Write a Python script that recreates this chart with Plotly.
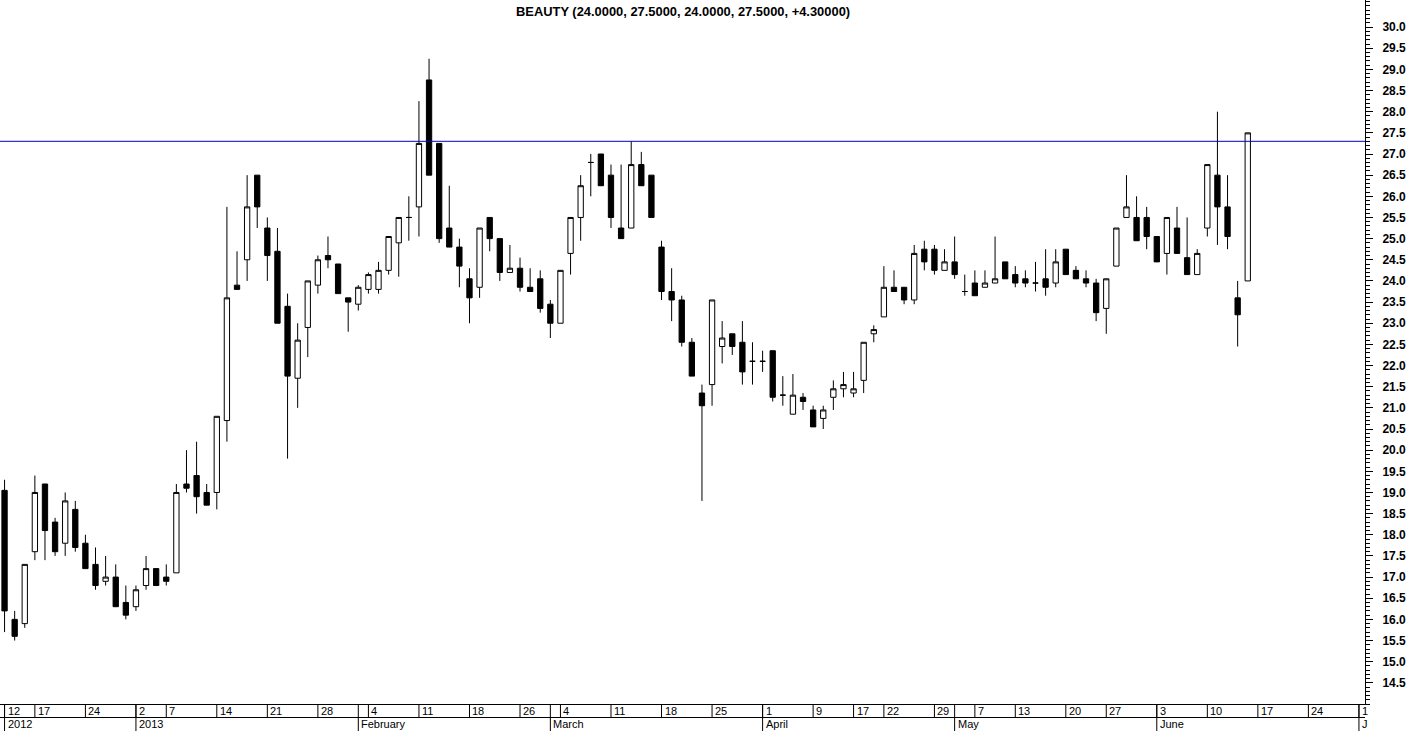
import pandas as pd
import plotly.graph_objects as go

title_text = "BEAUTY (24.0000, 27.5000, 24.0000, 27.5000, +4.30000)"

# trading calendar (SET), the last rows are empty future days
start_date = "2012-12-12"
end_date = "2013-07-01"
holidays = ["2012-12-31", "2013-01-01", "2013-02-25", "2013-04-08", "2013-04-15",
            "2013-04-16", "2013-05-01", "2013-05-06", "2013-05-24"]

opens = [19.05, 16.0, 15.9, 17.6, 19.2, 18.3, 17.8, 18.6, 17.8, 17.3,
         16.9, 17.0, 16.4, 16.3, 16.8, 17.2, 17.0, 17.1, 19.2, 19.4,
         19.0, 19.0, 20.7, 23.9, 24.5, 26.5, 25.25, 24.7, 23.4, 21.7,
         22.9, 23.9, 24.6, 24.4, 23.6, 23.45, 23.8, 23.8, 24.25, 24.9,
         25.5, 25.75, 28.75, 27.25, 25.25, 24.8, 24.05, 23.85, 25.5, 25.0,
         24.2, 24.3, 23.85, 24.05, 23.45, 23.0, 24.65, 25.5, 26.8, 27.0,
         26.5, 25.25, 25.25, 26.75, 26.5, 24.8, 23.75, 23.55, 22.55, 21.35,
         21.55, 22.45, 22.75, 22.55, 22.1, 22.1, 22.35, 21.3, 20.85, 21.25,
         20.95, 20.75, 21.25, 21.45, 21.35, 21.65, 22.75, 23.15, 23.85, 23.85,
         23.55, 24.75, 24.75, 24.25, 24.45, 23.75, 23.95, 23.85, 23.95, 24.45,
         24.15, 24.05, 23.95, 24.05, 23.95, 24.75, 24.25, 24.05, 23.95, 23.35,
         24.35, 25.5, 25.5, 25.5, 25.05, 24.65, 25.25, 24.55, 24.15, 25.25,
         26.5, 25.75, 23.6, 24.0]
highs = [19.3, 16.2, 17.3, 19.4, 19.2, 18.4, 19.0, 18.8, 18.0, 17.7,
         17.5, 17.3, 16.8, 16.8, 17.5, 17.2, 17.3, 19.2, 20.0, 20.2,
         19.2, 20.8, 25.75, 24.7, 26.5, 26.5, 25.5, 25.25, 23.7, 23.0,
         24.0, 24.6, 25.05, 24.4, 23.6, 23.9, 24.2, 24.45, 25.05, 25.5,
         26.0, 28.25, 29.25, 27.25, 26.25, 25.0, 24.3, 25.25, 25.5, 25.0,
         24.85, 24.55, 24.3, 24.25, 23.55, 24.25, 25.5, 26.5, 27.0, 27.0,
         26.75, 26.75, 27.3, 27.05, 26.5, 24.95, 24.3, 23.65, 22.65, 21.55,
         23.55, 23.05, 22.75, 23.05, 22.55, 22.35, 22.35, 21.75, 21.8, 21.35,
         21.05, 21.05, 21.65, 21.85, 21.85, 22.55, 22.95, 24.35, 24.25, 23.85,
         24.85, 24.95, 24.85, 24.75, 25.05, 24.15, 24.25, 24.25, 25.05, 24.45,
         24.35, 24.25, 24.45, 24.75, 24.75, 24.75, 24.35, 24.25, 24.05, 24.05,
         25.25, 26.5, 26.0, 25.75, 25.05, 25.5, 25.75, 25.5, 24.75, 26.75,
         28.0, 26.5, 24.0, 27.5]
lows = [15.7, 15.5, 15.8, 17.4, 17.4, 17.5, 17.5, 17.6, 17.2, 16.7,
        16.8, 16.3, 16.0, 16.2, 16.7, 16.8, 16.8, 17.1, 19.0, 18.5,
        18.7, 18.6, 20.2, 23.8, 24.0, 25.25, 24.0, 23.0, 19.8, 21.0,
        22.2, 23.7, 24.3, 23.7, 22.8, 23.3, 23.7, 23.7, 24.15, 24.1,
        24.95, 25.05, 26.5, 24.9, 24.8, 23.85, 23.0, 23.6, 24.7, 24.0,
        24.2, 23.75, 23.75, 23.25, 22.65, 23.0, 24.15, 24.95, 26.0, 26.25,
        25.25, 25.0, 25.25, 26.25, 25.5, 23.55, 23.05, 22.45, 21.75, 18.8,
        21.05, 22.05, 22.25, 21.55, 21.55, 21.85, 21.15, 21.05, 20.85, 20.95,
        20.55, 20.5, 20.95, 21.25, 21.25, 21.35, 22.55, 23.15, 23.75, 23.45,
        23.45, 24.25, 24.15, 24.25, 24.05, 23.65, 23.65, 23.85, 23.95, 24.05,
        23.85, 23.85, 23.75, 23.65, 23.85, 24.15, 24.05, 23.85, 23.05, 22.75,
        24.35, 25.5, 24.95, 24.75, 24.45, 24.15, 24.65, 24.15, 24.15, 25.05,
        24.85, 24.75, 22.45, 24.0]
closes = [16.2, 15.6, 17.3, 19.0, 18.1, 17.6, 18.8, 17.7, 17.2, 16.8,
          17.0, 16.3, 16.1, 16.7, 17.2, 16.8, 16.9, 19.0, 19.1, 18.9,
          18.7, 20.8, 23.6, 23.8, 25.75, 25.75, 24.6, 23.0, 21.75, 22.6,
          24.0, 24.5, 24.5, 23.7, 23.5, 23.85, 24.15, 24.25, 25.05, 25.5,
          25.5, 27.25, 26.5, 25.0, 24.8, 24.35, 23.6, 25.25, 25.0, 24.2,
          24.3, 23.85, 23.75, 23.35, 23.0, 24.25, 25.5, 26.25, 26.8, 26.25,
          25.5, 25.0, 26.75, 26.25, 25.5, 23.75, 23.55, 22.55, 21.75, 21.05,
          23.55, 22.65, 22.45, 21.85, 22.1, 22.1, 21.25, 21.3, 21.3, 21.15,
          20.55, 20.95, 21.45, 21.55, 21.45, 22.55, 22.85, 23.85, 23.75, 23.55,
          24.65, 24.45, 24.25, 24.45, 24.15, 23.75, 23.65, 23.95, 24.05, 24.05,
          23.95, 23.95, 23.95, 23.85, 24.45, 24.15, 24.05, 23.95, 23.25, 24.05,
          25.25, 25.75, 24.95, 25.05, 24.45, 25.5, 24.65, 24.15, 24.65, 26.75,
          25.75, 25.05, 23.2, 27.5]

hline_level = 27.3

month_labels = ["2012", "2013", "February", "March", "April", "May", "June", "J"]
y_tick_values = [v / 2 for v in range(29, 61)]
y_tick_labels = [f"{v:.1f}" for v in y_tick_values]

days = pd.bdate_range(start_date, end_date)
days = days[~days.isin(pd.to_datetime(holidays))]
pos = list(range(len(days)))

# first trading day of each week / month
week_starts, month_starts = [], []
seen_w, seen_m = set(), set()
for i, d in enumerate(days):
    wk = tuple(d.isocalendar())[:2]
    if wk not in seen_w:
        seen_w.add(wk)
        week_starts.append(i)
    mo = (d.year, d.month)
    if mo not in seen_m:
        seen_m.add(mo)
        month_starts.append(i)

fig = go.Figure()
fig.add_trace(go.Candlestick(
    x=pos[:len(opens)], open=opens, high=highs, low=lows, close=closes,
    increasing=dict(line=dict(color="black", width=1), fillcolor="white"),
    decreasing=dict(line=dict(color="black", width=1), fillcolor="black"),
    whiskerwidth=0, hoverinfo="skip", showlegend=False,
))
# empty trace so the date strip subplot exists
fig.add_trace(go.Scatter(x=[], y=[], xaxis="x", yaxis="y2", hoverinfo="skip", showlegend=False))

shapes = [
    dict(type="line", xref="paper", yref="y", x0=0, x1=1, y0=hline_level, y1=hline_level,
         line=dict(color="#0000CC", width=1)),
    dict(type="line", xref="paper", yref="y2", x0=0, x1=1, y0=1, y1=1,
         line=dict(color="black", width=1)),
]
annotations = [
    dict(text=f"<b>{title_text}</b>", xref="paper", yref="paper", x=0.5, y=1 - 11 / 731,
         xanchor="center", yanchor="middle", showarrow=False,
         font=dict(family="Liberation Sans, Arial", size=12.9, color="black")),
]
for i in week_starts:
    shapes.append(dict(type="line", xref="x", yref="y2", x0=i, x1=i, y0=1, y1=2,
                       line=dict(color="black", width=1)))
    annotations.append(dict(text=str(days[i].day), xref="x", yref="y2", x=i, y=1.5,
                            xanchor="left", yanchor="middle", xshift=1, showarrow=False,
                            font=dict(size=11)))
for i, lab in zip(month_starts, month_labels):
    shapes.append(dict(type="line", xref="x", yref="y2", x0=i, x1=i, y0=0, y1=2,
                       line=dict(color="black", width=1)))
    annotations.append(dict(text=lab, xref="x", yref="y2", x=i, y=0.5,
                            xanchor="left", yanchor="middle", xshift=1, showarrow=False,
                            font=dict(size=11)))

fig.update_layout(
    width=1410, height=731,
    margin=dict(l=0, r=45, t=0, b=0),
    paper_bgcolor="white", plot_bgcolor="white",
    font=dict(family="Liberation Sans, Arial, sans-serif", size=11, color="black"),
    showlegend=False,
    boxgap=0.25,
    shapes=shapes,
    annotations=annotations,
    xaxis=dict(range=[-0.45, 134.6], showgrid=False, zeroline=False, showticklabels=False,
               ticks="", showline=True, linecolor="black", linewidth=1, anchor="y",
               rangeslider=dict(visible=False), fixedrange=True),
    yaxis=dict(domain=[27 / 731, 1], range=[14.0, 30.64], side="right", anchor="x",
               showgrid=False, zeroline=False, showline=True, linecolor="black", linewidth=1,
               ticks="outside", ticklen=7, tickcolor="black",
               tickmode="array", tickvals=y_tick_values, ticktext=y_tick_labels,
               tickfont=dict(family="Liberation Sans, Arial", size=12, weight="bold"),
               ticklabelstandoff=7, automargin=False, fixedrange=True,
               minor=dict(dtick=0.1, tick0=0, ticks="outside", ticklen=4, tickcolor="black")),
    yaxis2=dict(domain=[0, 27 / 731], range=[0, 2], visible=False, anchor="x", fixedrange=True),
)

# the page body has a default 8px margin; drop it so the figure fills the window
fig.write_html("out.html", config={"displayModeBar": False},
               post_script="document.body.style.margin='0px';")
